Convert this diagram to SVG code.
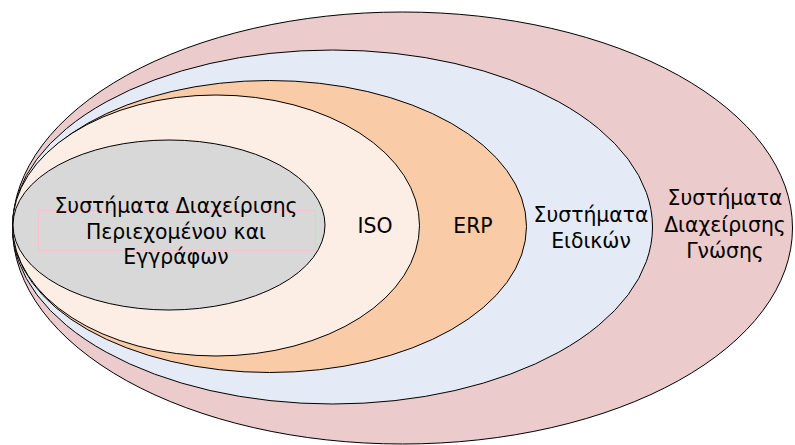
<svg xmlns="http://www.w3.org/2000/svg" width="795" height="445" viewBox="0 0 795 445">
<style>
.e{stroke:#000;stroke-width:1}
.t{font-family:"DejaVu Sans","Noto Sans",sans-serif;font-size:20.4px;fill:#000;text-anchor:middle}
</style>
<rect width="795" height="445" fill="#fff"/>
<g id="gnosis"><ellipse class="e" cx="402.5" cy="228" rx="390" ry="216" fill="#EBCBCB"/>
<text class="t" x="725" y="205">Συστήματα</text><text class="t" x="725" y="232">Διαχείρισης</text><text class="t" x="725" y="258">Γνώσης</text></g>
<g id="eidikon"><ellipse class="e" cx="332.5" cy="227" rx="320" ry="177" fill="#E4EBF6"/>
<text class="t" x="591" y="222">Συστήματα</text><text class="t" x="591" y="248">Ειδικών</text></g>
<g id="erp"><ellipse class="e" cx="269.5" cy="226.5" rx="257" ry="146" fill="#F9CBA6"/>
<text class="t" x="473" y="233">ERP</text></g>
<g id="iso"><ellipse class="e" cx="216" cy="225.5" rx="203.5" ry="130.5" fill="#FCEEE4"/>
<text class="t" x="375" y="233">ISO</text></g>
<g id="cms"><ellipse class="e" cx="169" cy="225" rx="156" ry="85" fill="#D8D8D8"/>
<rect x="38.5" y="210.5" width="277" height="40" fill="none" stroke="#F2C6C6" stroke-width="1"/>
<text class="t" x="176" y="213">Συστήματα Διαχείρισης</text><text class="t" x="176" y="239">Περιεχομένου και</text><text class="t" x="176" y="264">Εγγράφων</text></g>
<g id="connectors"/>
</svg>
